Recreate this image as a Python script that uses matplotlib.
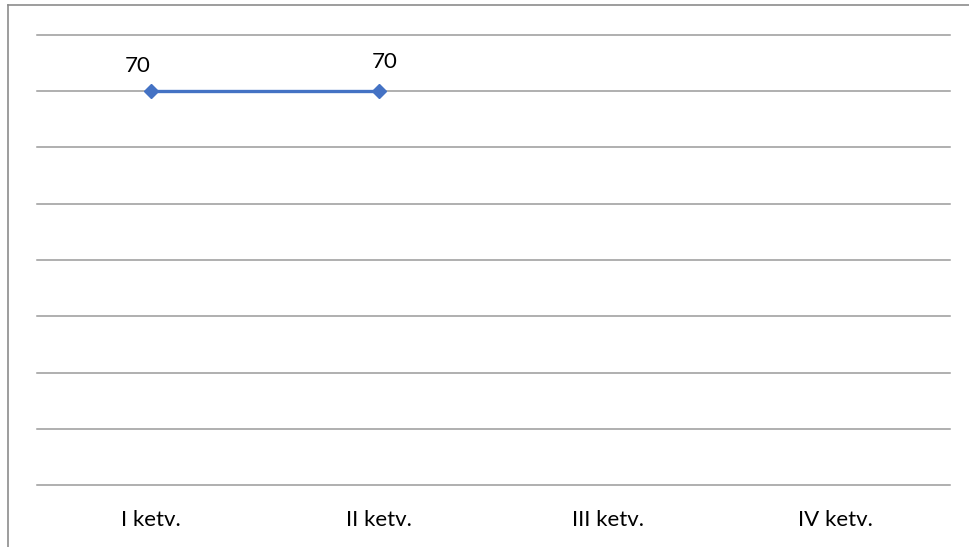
import matplotlib.pyplot as plt
from matplotlib.lines import Line2D

categories = ['I ketv.', 'II ketv.', 'III ketv.', 'IV ketv.']
values = [70, 70]
y_max = 80
y_step = 10

plt.rcParams['font.family'] = ['Lato', 'DejaVu Sans']

fig = plt.figure(figsize=(9.7, 5.47), dpi=100)
ax = fig.add_axes([37 / 970, 62 / 547, 913 / 970, 450 / 547])

x = list(range(len(values)))
ax.plot(x, values, color='#4472C4', lw=2.4, marker='D', ms=7.5, zorder=3)
label_shift = [(-9.5, 14), (3.5, 17)]
for xi, v, (dx, dy) in zip(x, values, label_shift):
    ax.annotate(str(v), (xi, v), xytext=(dx, dy), textcoords='offset points',
                ha='center', va='baseline', fontsize=16, color='#000000')

ax.set_xlim(-0.5, len(categories) - 0.5)
ax.set_ylim(0, y_max)
ax.set_xticks(range(len(categories)))
ax.set_xticklabels(categories, fontsize=16, color='#000000')
ax.set_yticks(range(0, y_max + 1, y_step))
ax.set_yticklabels([])
ax.tick_params(length=0, pad=18)
ax.grid(axis='y', color='#9a9a9a', lw=1.1)
for gl in ax.get_ygridlines():
    gl.set_clip_on(False)
ax.set_axisbelow(True)
for s in ax.spines.values():
    s.set_visible(False)

# outer chart border (only top and left visible in the crop)
fig.add_artist(Line2D([8 / 970, 1], [1 - 5 / 547, 1 - 5 / 547], color='#8c8c8c', lw=1.2))
fig.add_artist(Line2D([8 / 970, 8 / 970], [0, 1 - 5 / 547], color='#8c8c8c', lw=1.2))

fig.savefig('out.png', dpi=100)
